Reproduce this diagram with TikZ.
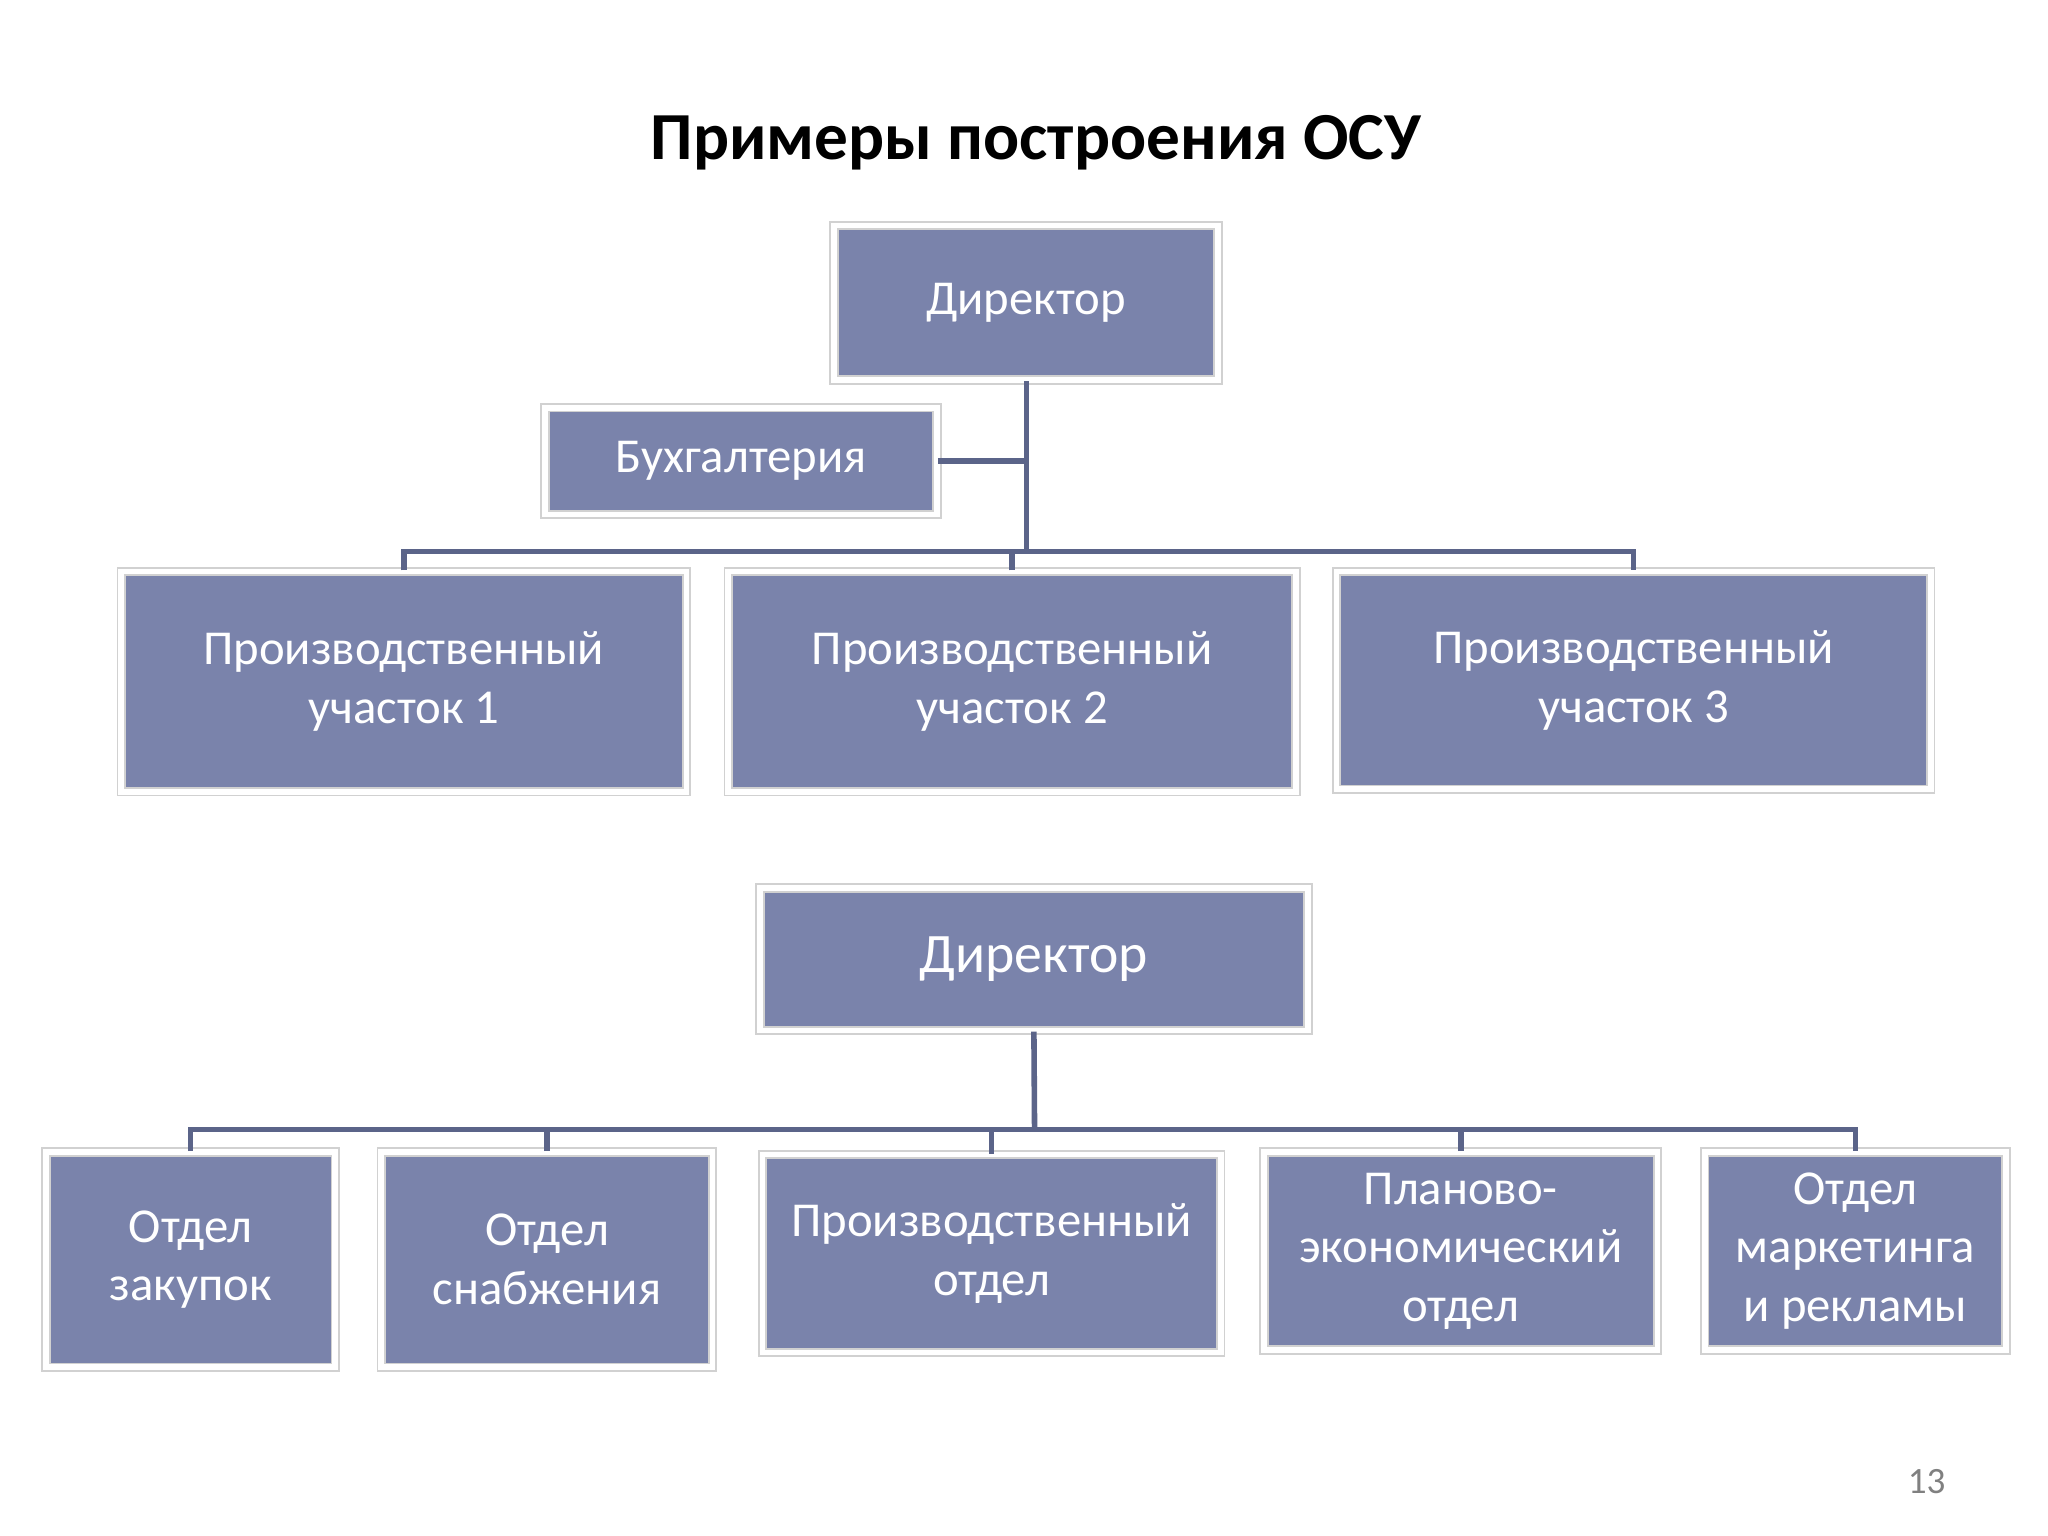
\documentclass[tikz,border=0pt]{standalone}
\usepackage{fontspec}
\setmainfont{Carlito}
\definecolor{boxc}{HTML}{7A83AB}
\definecolor{linec}{HTML}{5B6489}
\begin{document}
\begin{tikzpicture}[x=0.01cm,y=-0.01cm,
  box/.style={fill=boxc,draw=black!18,double=white,double distance=1.2pt,line width=0.4pt,
    text=white,align=center,font=\fontsize{10.5pt}{12.6pt}\selectfont,inner sep=0pt},
  conn/.style={draw=linec,line width=1.2pt}]
\useasboundingbox[fill=white] (0,0) rectangle (1552,1164);
\node[font=\bfseries\fontsize{14.5pt}{17pt}\selectfont] (title) at (785,108) {Примеры построения ОСУ};
% top chart
\node[box,minimum width=2.91cm,minimum height=1.17cm] (d1) at (777.5,229.5) {Директор};
\node[box,minimum width=2.97cm,minimum height=0.81cm] (b) at (561.5,349.5) {Бухгалтерия};
\node[box,minimum width=4.28cm,minimum height=1.67cm] (p1) at (306,516.5) {Производственный\\участок 1};
\node[box,minimum width=4.30cm,minimum height=1.67cm] (p2) at (767,516.5) {Производственный\\участок 2};
\node[box,minimum width=4.50cm,minimum height=1.65cm] (p3) at (1238,515.5) {Производственный\\участок 3};
\coordinate (j1) at (778,418);
\draw[conn] (d1.south -| j1) -- (j1);
\draw[conn] (b.east) -- (b.east -| j1);
\draw[conn] (p1.north) -- (p1.north |- j1) -- (p3.north |- j1) -- (p3.north);
\draw[conn] (p2.north) -- (p2.north |- j1);
% bottom chart
\node[box,minimum width=4.15cm,minimum height=1.08cm,font=\fontsize{12pt}{14pt}\selectfont] (d2) at (783.5,727) {Директор};
\node[box,minimum width=2.19cm,minimum height=1.63cm] (o1) at (144.5,954.5) {Отдел\\закупок};
\node[box,minimum width=2.51cm,minimum height=1.63cm] (o2) at (414.5,954.5) {Отдел\\снабжения};
\node[box,minimum width=3.47cm,minimum height=1.50cm] (o3) at (751.5,950) {Производственный\\отдел};
\node[box,minimum width=2.98cm,minimum height=1.50cm] (o4) at (1107,948) {Планово-\\экономический\\отдел};
\node[box,minimum width=2.28cm,minimum height=1.50cm] (o5) at (1406,948) {Отдел\\маркетинга\\и рекламы};
\coordinate (j2) at (784,856);
\draw[conn] (d2.south) -- (j2);
\draw[conn] (o1.north) -- (o1.north |- j2) -- (o5.north |- j2) -- (o5.north);
\foreach \n in {o2,o3,o4} \draw[conn] (\n.north) -- (\n.north |- j2);
\node[text=black!50,font=\fontsize{8pt}{9pt}\selectfont] (pg) at (1460,1123) {13};
\end{tikzpicture}
\end{document}
